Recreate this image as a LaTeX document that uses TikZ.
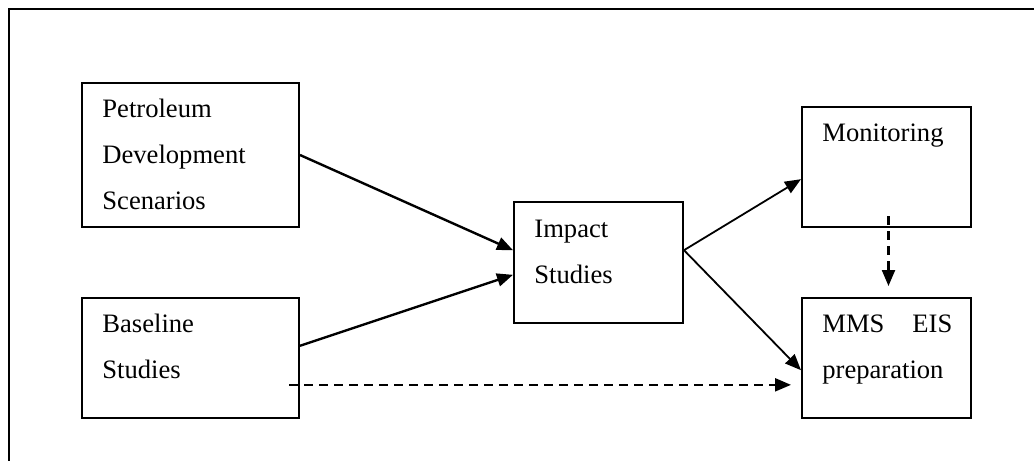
\documentclass[tikz,border=0pt]{standalone}
\usepackage{fontspec}
\setmainfont{Liberation Serif}
\usetikzlibrary{arrows.meta,calc}
\begin{document}
\begin{tikzpicture}[x=0.5pt,y=-0.5pt,
  box/.style={draw,line width=1pt,inner sep=0pt},
  txt/.style={anchor=base west,align=left,inner sep=0pt,font=\fontsize{13.3pt}{23pt}\selectfont},
  flow/.style={line width=1.2pt,-{Triangle[length=8pt,width=6.5pt]}},
  flowthin/.style={line width=0.9pt,-{Triangle[length=8pt,width=6.5pt]}},
  dashflow/.style={line width=1.1pt,dash pattern=on 4.5pt off 3pt,-{Triangle[length=8pt,width=6.5pt]}}]
\useasboundingbox (0,0) rectangle (1034,461);
% frame
\draw[line width=0.8pt] (1034,9) -| (9,461);
% boxes
\node [box,minimum width=108.5pt,minimum height=72pt] (pet) at (190.5,155) {};
\node [box,minimum width=108.5pt,minimum height=60pt] (base) at (190.5,358) {};
\node [box,minimum width=84.5pt,minimum height=60.5pt] (imp) at (598.5,262.5) {};
\node [box,minimum width=84.5pt,minimum height=60pt] (mon) at (886.5,167) {};
\node [box,minimum width=84.5pt,minimum height=60pt] (mms) at (886.5,358) {};
% texts (anchored on the baseline of the last line)
\node [txt] (pet-t) at ($(pet.north west)+(21,127)$) {Petroleum\\Development\\Scenarios};
\node [txt] (base-t) at ($(base.north west)+(21,81)$) {Baseline\\Studies};
\node [txt] (imp-t) at ($(imp.north west)+(21,82)$) {Impact\\Studies};
\node [txt] (mon-t) at ($(mon.north west)+(21,35)$) {Monitoring};
\node [txt] (mms-t) at ($(mms.north west)+(21,81)$) {MMS\hspace{14pt}EIS\\preparation};
% arrows
\draw [flow] (pet.east) to ($(imp.north west)!0.4!(imp.south west)$);
\draw [flow] ($(base.north east)!0.4!(base.south east)$) to ($(imp.north west)!0.6!(imp.south west)$);
\draw [flowthin] ($(imp.north east)!0.4!(imp.south east)$) to ($(mon.north west)!0.6!(mon.south west)$);
\draw [flowthin] ($(imp.north east)!0.4!(imp.south east)$) to ($(mms.north west)!0.6!(mms.south west)$);
\draw [dashflow] ($(mon.south)+(2,-12)$) to ($(mms.north)+(2,-11)$);
\draw [dashflow] ($(base.north east)!0.72!(base.south east)+(-11,0)$) to ($(mms.north west)!0.72!(mms.south west)+(-10,0)$);
\end{tikzpicture}
\end{document}
